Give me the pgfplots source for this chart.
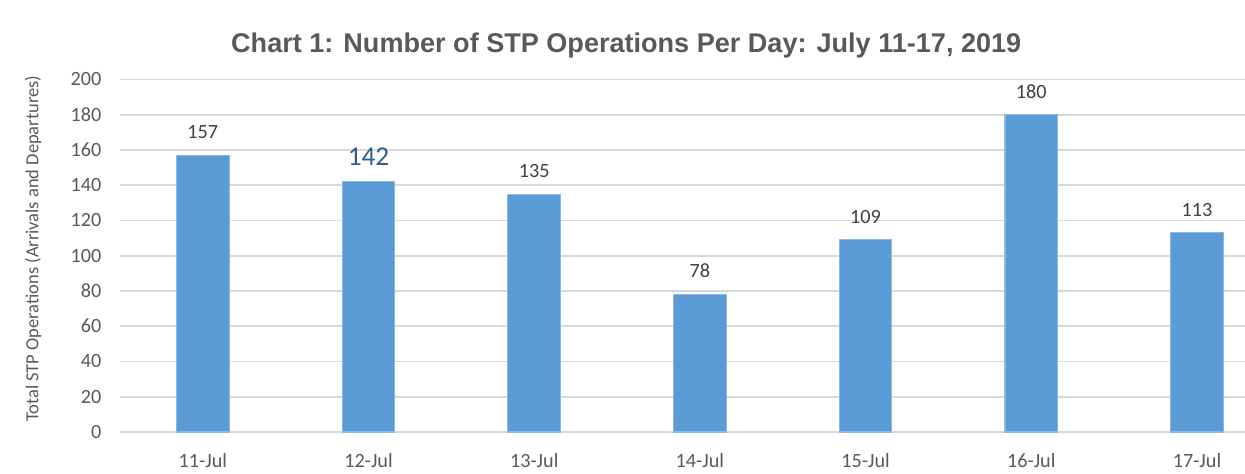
\documentclass[border=0pt]{standalone}
\usepackage{fontspec}
\setmainfont{Carlito}
\newfontfamily\titlefont{Liberation Sans}
\usepackage{pgfplots}
\pgfplotsset{compat=1.18}
\definecolor{barblue}{HTML}{5B9BD5}
\definecolor{baredge}{HTML}{8DB8E2}
\definecolor{gridgray}{HTML}{D9D9D9}
\definecolor{ticktxt}{HTML}{595959}
\definecolor{lbltxt}{HTML}{404040}
\definecolor{darkblue}{HTML}{2F5C8C}
\begin{document}
\begin{tikzpicture}
\begin{axis}[
    name=main,
    scale only axis,
    width=22.5cm, height=7.05cm,
    xmin=-0.5, xmax=6.29,
    ymin=0, ymax=200,
    ytick={0,20,...,200},
    xtick={0,...,6},
    xticklabels={11-Jul,12-Jul,13-Jul,14-Jul,15-Jul,16-Jul,17-Jul},
    ymajorgrids,
    grid style={gridgray, line width=1.1pt},
    axis line style={draw=none},
    major tick style={draw=none},
    tick label style={font=\fontsize{11.5}{13}\selectfont, text=ticktxt},
    /pgf/number format/assume math mode=true,
    yticklabel style={xshift=-0.25cm},
    xticklabel style={anchor=center, yshift=-0.42cm},
    ylabel={Total STP Operations (Arrivals and Departures)},
    ylabel style={at={(axis description cs:-0.0773,0.52)}, anchor=center,
        font=\fontsize{10.5}{12}\selectfont, text=ticktxt},
    title={Chart 1: Number of STP Operations Per Day: July 11-17, 2019},
    title style={at={(axis description cs:0.45,1)}, anchor=center, yshift=0.47cm,
        font=\titlefont\bfseries\fontsize{15.4}{18}\selectfont, text=ticktxt},
    ybar, bar width=1.05cm, bar shift=0pt,
    nodes near coords,
    nodes near coords style={font=\fontsize{11.5}{13}\selectfont, text=lbltxt, yshift=0.2cm},
    clip=false,
]
\addplot[fill=barblue, draw=baredge, line width=0.6pt] coordinates {(0,157) (2,135) (3,78) (4,109) (5,180) (6,113)};
\addplot[fill=barblue, draw=baredge, line width=0.6pt,
    nodes near coords style={font=\fontsize{15.5}{17}\selectfont, text=darkblue, yshift=0cm}]
    coordinates {(1,142)};
\end{axis}
\pgfresetboundingbox
\path[use as bounding box] ([xshift=-2.4cm, yshift=-0.82cm]main.south west) rectangle ([yshift=1.59cm]main.north east);
\end{tikzpicture}
\end{document}
